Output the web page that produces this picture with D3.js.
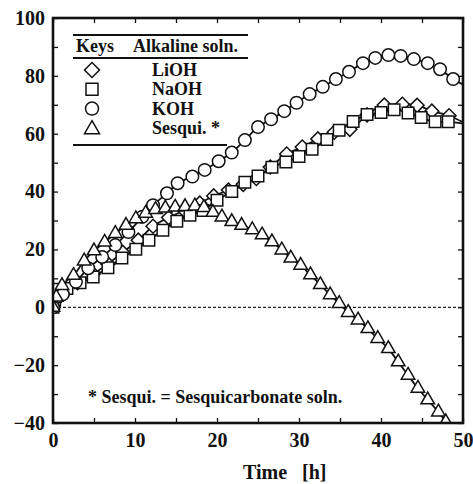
<!DOCTYPE html>
<html>

<head>
	<meta charset="utf-8">
	<title>Alkaline solutions vs time</title>
	<script src="https://cdn.jsdelivr.net/npm/d3@7"></script>
	<style>
		body {
			margin: 0;
			background: #fff;
		}

		svg text {
			font-family: "Liberation Serif", "Times New Roman", "DejaVu Serif", serif;
			font-weight: bold;
			fill: #111;
		}

		.axis path {
			display: none;
		}

		.axis line {
			stroke: #111;
			stroke-width: 1.3px;
		}

		.fit {
			fill: none;
			stroke: #111;
			stroke-width: 1.8px;
		}

		.mark {
			fill: #fff;
			stroke: #111;
			stroke-width: 1.5px;
		}
	</style>
</head>

<body>
	<svg id="chart" width="473" height="484"></svg>

	<script>
		// values (time in h)
		var liohTime = [0, 1.2, 3.0, 4.9, 6.7, 8.5, 10.4, 12.2, 14.1, 16.0, 17.9, 19.6, 21.4, 23.2, 24.8, 26.5, 28.5, 30.4, 32.3, 34.3, 36.2, 38.3, 40.4, 42.6, 44.4, 46.2, 48.3];
		var liohValue = [0, 4.5, 8.5, 11.5, 15, 19, 23.2, 28, 31, 33.5, 36, 38.5, 40.5, 42.5, 44.5, 48.5, 53, 55.4, 58.2, 60.5, 61.5, 66.5, 69.9, 70.2, 69.8, 67.8, 66.2];

		var naohTime = [0, 0.1, 0.2, 0.3, 0.4, 0.6, 1.7, 3.3, 4.9, 6.7, 8.4, 10.1, 11.7, 13.4, 15.1, 16.7, 18.3, 20.0, 21.8, 23.4, 25.0, 26.7, 28.4, 30.0, 31.6, 33.4, 34.9, 36.6, 38.3, 40.0, 41.6, 43.3, 44.9, 46.6, 48.2];
		var naohValue = [0, 1.2, 2.4, 3.6, 4.8, 6.2, 6.5, 8.5, 10.5, 13.7, 17, 20.1, 23.2, 26.6, 29.7, 31.8, 33.5, 37, 40, 43.2, 45.4, 48.4, 50.2, 52.1, 54.6, 58, 61.2, 64.2, 66.6, 67.3, 68.3, 67.2, 65.6, 64.1, 64.1];

		var kohTime = [0, 1.2, 2.8, 4.3, 6.0, 7.6, 9.2, 10.9, 12.2, 13.9, 15.2, 17.0, 18.5, 20.2, 21.8, 23.4, 25.0, 26.6, 28.2, 29.7, 31.3, 32.9, 34.5, 36.1, 37.8, 39.3, 40.9, 42.4, 44.0, 45.7, 47.2, 48.8];
		var kohValue = [0, 4.5, 8.8, 13.5, 17.4, 21.5, 26, 31.3, 35.3, 39.4, 42.9, 45.2, 47.5, 50.5, 53.5, 57.8, 62.3, 65, 67.8, 70.7, 73.7, 76.2, 78.9, 81.4, 84.4, 86.2, 87.2, 86.9, 85.8, 84.4, 82.3, 78.9];

		var sesquiTime = [0, 0.4, 1.1, 2.5, 3.8, 5.0, 6.3, 7.6, 8.9, 10.1, 11.3, 12.5, 13.7, 14.9, 16.1, 17.3, 18.4, 19.5, 20.6, 21.8, 23.0, 24.3, 25.5, 26.7, 27.9, 29.0, 30.2, 31.4, 32.6, 33.8, 34.9, 36.0, 37.2, 38.4, 39.6, 40.9, 42.1, 43.3, 44.5, 45.7, 47.0, 47.9];
		var sesquiValue = [0, 3.5, 7.5, 11, 16, 19.5, 22.5, 25.5, 28.3, 30.6, 32.5, 33.8, 34.3, 34.6, 34.8, 35, 34.5, 32.8, 31.2, 29.6, 28.3, 26.8, 25, 22.6, 19.8, 17, 14.5, 11.2, 7.8, 4.3, 1.3, -1.8, -4.4, -7.4, -10.8, -14.3, -18.9, -23.5, -28, -32, -36.2, -39.6];

		// where each fitted curve meets the right frame (t = 50)
		var lineEndValue = [64, 63.5, 77, null];

		var seriesNames = ['LiOH', 'NaOH', 'KOH', 'Sesqui. *'];
		var xTicks = [0, 10, 20, 30, 40, 50];
		var yTicks = [-40, -20, 0, 20, 40, 60, 80, 100];
		var footnote = '* Sesqui. = Sesquicarbonate soln.';

		var svg = d3.select('#chart'),
			margin = { top: 18, right: 10, bottom: 61, left: 53 },
			width = +svg.attr('width') - margin.left - margin.right,
			height = +svg.attr('height') - margin.top - margin.bottom;

		var x = d3.scaleLinear().domain([0, 50]).range([0, width]);
		var y = d3.scaleLinear().domain([-40, 100]).range([height, 0]);

		var g = svg.append('g')
			.attr('transform', 'translate(' + margin.left + ',' + margin.top + ')');

		g.append('clipPath').attr('id', 'plot-clip')
			.append('rect').attr('width', width).attr('height', height);

		// axes, ticks pointing inward
		g.append('g').attr('class', 'axis')
			.attr('transform', 'translate(0,' + height + ')')
			.call(d3.axisBottom(x).tickValues(d3.range(0, 51, 5)).tickSize(-5).tickPadding(10)
				.tickFormat(d => xTicks.includes(d) ? d : ''))
			.selectAll('text').style('font-size', '20px');

		g.append('g').attr('class', 'axis')
			.call(d3.axisTop(x).tickValues(d3.range(0, 51, 5)).tickSize(-5).tickFormat(''));

		g.append('g').attr('class', 'axis')
			.call(d3.axisLeft(y).tickValues(d3.range(-40, 101, 10)).tickSize(-5).tickPadding(8)
				.tickFormat(d => yTicks.includes(d) ? d3.format('d')(d) : ''))
			.selectAll('text').style('font-size', '20px');

		g.append('g').attr('class', 'axis')
			.attr('transform', 'translate(' + width + ',0)')
			.call(d3.axisRight(y).tickValues(d3.range(-40, 101, 10)).tickSize(-5).tickFormat(''));

		// zero reference line
		g.append('line')
			.attr('x1', 0).attr('x2', width)
			.attr('y1', y(0)).attr('y2', y(0))
			.attr('stroke', '#222')
			.attr('stroke-width', 1.2)
			.attr('stroke-dasharray', '3,2');

		var series = [
			{ t: liohTime, v: liohValue, shape: 'diamond' },
			{ t: naohTime, v: naohValue, shape: 'square' },
			{ t: kohTime, v: kohValue, shape: 'circle' },
			{ t: sesquiTime, v: sesquiValue, shape: 'triangle' }
		].map((s, i) => {
			s.points = s.t.map((t, j) => [t, s.v[j]]);
			s.name = seriesNames[i];
			s.end = lineEndValue[i];
			return s;
		});

		function shapePath(shape, size) {
			if (shape === 'circle') return d3.symbol(d3.symbolCircle, Math.PI * size * size / 4)();
			if (shape === 'square') return d3.symbol(d3.symbolSquare, size * size)();
			if (shape === 'diamond') return d3.symbol(d3.symbolSquare, size * size / 2)();
			return d3.symbol(d3.symbolTriangle, Math.sqrt(3) / 4 * size * size)();
		}

		function shapeTransform(shape, px, py) {
			return 'translate(' + px + ',' + py + ')' + (shape === 'diamond' ? ' rotate(45)' : '');
		}

		var line = d3.line()
			.x(d => x(d[0]))
			.y(d => y(d[1]))
			.curve(d3.curveMonotoneX);

		var plot = g.append('g').attr('clip-path', 'url(#plot-clip)');

		plot.selectAll('path.fit')
			.data(series)
			.enter()
			.append('path')
			.attr('class', 'fit')
			.attr('d', s => line(s.end == null ? s.points : s.points.concat([[50, s.end]])));

		var markSize = { diamond: 14, square: 11.5, circle: 12.5, triangle: 13.5 };

		series.forEach(s => {
			plot.append('g')
				.selectAll('path')
				.data(s.points)
				.enter()
				.append('path')
				.attr('class', 'mark')
				.attr('d', shapePath(s.shape, markSize[s.shape]))
				.attr('transform', d => shapeTransform(s.shape, x(d[0]), y(d[1])));
		});

		// plot frame
		g.append('rect')
			.attr('width', width)
			.attr('height', height)
			.attr('fill', 'none')
			.attr('stroke', '#111')
			.attr('stroke-width', 2.6);

		// legend table
		var legend = svg.append('g');
		[[35, 248], [58, 248], [145, 227]].forEach(r => {
			legend.append('line')
				.attr('x1', 73).attr('x2', r[1])
				.attr('y1', r[0]).attr('y2', r[0])
				.attr('stroke', '#111')
				.attr('stroke-width', 2);
		});
		legend.append('text').attr('x', 76).attr('y', 52).style('font-size', '18px').text('Keys');
		legend.append('text').attr('x', 133).attr('y', 52).style('font-size', '18px').text('Alkaline soln.');

		var legendSize = { diamond: 15, square: 12, circle: 13, triangle: 15 };
		series.forEach((s, i) => {
			var cy = 70 + i * 19.3;
			legend.append('path')
				.attr('class', 'mark')
				.attr('d', shapePath(s.shape, legendSize[s.shape]))
				.attr('transform', shapeTransform(s.shape, 92, s.shape === 'triangle' ? cy + 1.5 : cy));
			legend.append('text')
				.attr('x', 152)
				.attr('y', cy + 6)
				.style('font-size', '18px')
				.text(s.name);
		});

		svg.append('text')
			.attr('x', 88)
			.attr('y', 403)
			.style('font-size', '18px')
			.text(footnote);

		svg.append('text')
			.attr('x', 243)
			.attr('y', 479)
			.style('font-size', '20px')
			.attr('xml:space', 'preserve')
			.text('Time   [h]');
	</script>
</body>

</html>
